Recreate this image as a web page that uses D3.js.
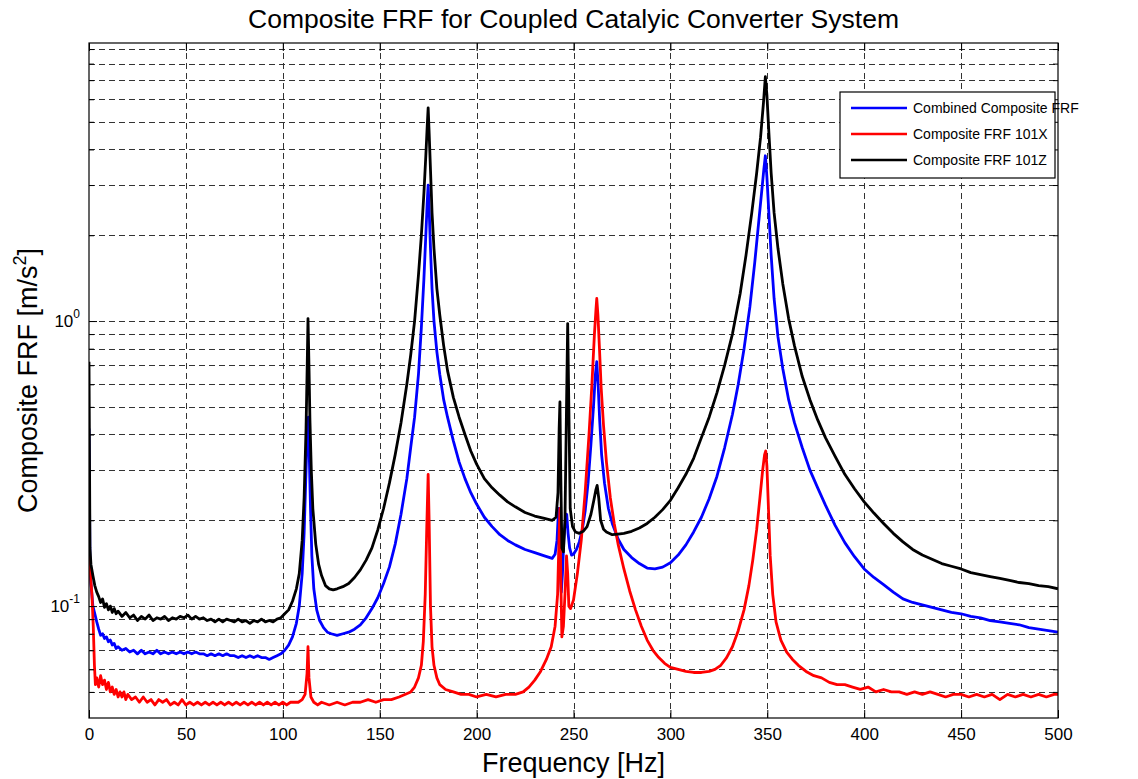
<!doctype html>
<meta charset="utf-8">
<style>
 body { margin: 0; background: #fff; }
 text { font-family: "Liberation Sans", Arial, sans-serif; fill: #000; }
 .grid line { stroke: #333; stroke-width: 1; stroke-dasharray: 6,4; }
 .series path { fill: none; stroke-width: 2.8; stroke-linejoin: round; }
</style>
<svg width="1138" height="779"></svg>
<script src="https://d3js.org/d3.v7.min.js"></script>
<script>
 // Data: [frequency Hz, composite FRF m/s^2]
 var xTicks = [0, 50, 100, 150, 200, 250, 300, 350, 400, 450, 500];
 var yDecades = [0.1, 1];
 var seriesNames = ["Combined Composite FRF", "Composite FRF 101X", "Composite FRF 101Z"];
 var seriesColors = ["#0000ff", "#ff0000", "#000000"];

 var frf101Z = [[0,0.72],[0.5,0.16],[1,0.14],[2,0.128],[3,0.118],[4,0.112],[5,0.108],[6,0.103],[7,0.106],[8,0.099],[9,0.102],[10,0.097],[11,0.1],[12,0.095],[13,0.098],[14,0.094],[15,0.096],[17,0.092],[19,0.095],[21,0.091],[23,0.093],[25,0.089],[27,0.092],[29,0.09],[31,0.093],[33,0.089],[35,0.091],[37,0.09],[39,0.092],[41,0.089],[43,0.091],[45,0.09],[47,0.092],[49,0.091],[51,0.093],[53,0.09],[55,0.092],[57,0.09],[59,0.091],[61,0.089],[63,0.09],[65,0.088],[67,0.09],[69,0.088],[71,0.09],[73,0.089],[75,0.088],[77,0.09],[79,0.088],[81,0.089],[83,0.087],[85,0.089],[87,0.088],[89,0.09],[91,0.088],[93,0.089],[95,0.088],[97,0.09],[99,0.091],[101,0.094],[103,0.097],[105,0.104],[107,0.115],[108.5,0.13],[110,0.17],[111,0.24],[112,0.42],[112.6,0.7],[113,1.02],[113.5,0.7],[114,0.45],[114.7,0.3],[115.5,0.22],[117,0.165],[118.5,0.14],[120,0.128],[122,0.118],[124,0.115],[126,0.114],[128,0.115],[131,0.117],[134,0.12],[137,0.126],[140,0.134],[143,0.145],[146,0.16],[149,0.185],[152,0.22],[155,0.27],[158,0.34],[161,0.44],[164,0.6],[166,0.76],[168,1.0],[170,1.45],[171.5,2.0],[172.8,2.8],[173.8,3.8],[174.5,4.8],[175,5.6],[175.5,4.6],[176.2,3.4],[177,2.4],[178,1.8],[179.5,1.3],[181,1.05],[183,0.82],[185,0.67],[188,0.54],[191,0.46],[194,0.4],[197,0.35],[200,0.315],[204,0.28],[208,0.26],[212,0.245],[216,0.232],[220,0.223],[225,0.213],[230,0.207],[235,0.203],[239,0.2],[241,0.205],[242,0.25],[242.6,0.42],[243,0.52],[243.4,0.3],[244,0.16],[244.8,0.155],[245.6,0.2],[246.4,0.5],[247,0.98],[247.6,0.5],[248.3,0.22],[249.5,0.19],[251,0.182],[253,0.18],[255,0.183],[257,0.19],[259,0.21],[260.5,0.235],[261.5,0.255],[262.2,0.265],[263,0.24],[264,0.2],[265.5,0.186],[267,0.182],[270,0.178],[273,0.179],[276,0.18],[280,0.183],[284,0.188],[288,0.195],[292,0.205],[296,0.218],[300,0.235],[304,0.26],[308,0.29],[312,0.33],[316,0.39],[320,0.46],[324,0.56],[328,0.7],[332,0.9],[336,1.25],[339,1.7],[342,2.4],[344.5,3.3],[346.5,4.4],[348,5.8],[349,7.2],[349.8,6.2],[350.8,4.6],[352,3.3],[353.5,2.4],[355.5,1.8],[358,1.35],[361,1.02],[364,0.82],[368,0.64],[372,0.53],[376,0.45],[380,0.39],[385,0.335],[390,0.29],[395,0.258],[400,0.232],[405,0.212],[410,0.195],[415,0.18],[420,0.168],[425,0.158],[430,0.151],[435,0.146],[440,0.141],[445,0.138],[450,0.135],[455,0.131],[460,0.129],[465,0.127],[470,0.125],[475,0.123],[480,0.121],[485,0.12],[490,0.118],[495,0.117],[500,0.115]];

 var frfCombined = [[0,0.42],[0.5,0.14],[1,0.12],[2,0.1],[3,0.094],[4,0.088],[5,0.083],[6,0.079],[7,0.08],[8,0.077],[9,0.078],[10,0.075],[11,0.076],[12,0.073],[13,0.074],[14,0.071],[15,0.072],[17,0.07],[19,0.071],[21,0.069],[23,0.07],[25,0.068],[27,0.07],[29,0.068],[31,0.069],[33,0.068],[35,0.07],[37,0.068],[39,0.069],[41,0.068],[43,0.069],[45,0.068],[47,0.069],[49,0.068],[51,0.069],[53,0.068],[55,0.069],[57,0.068],[59,0.068],[61,0.067],[63,0.068],[65,0.067],[67,0.068],[69,0.067],[71,0.068],[73,0.067],[75,0.067],[77,0.066],[79,0.067],[81,0.066],[83,0.067],[85,0.066],[87,0.067],[89,0.066],[91,0.066],[93,0.065],[95,0.066],[97,0.067],[99,0.068],[101,0.07],[103,0.073],[105,0.078],[107,0.087],[108.5,0.1],[110,0.13],[111,0.18],[112,0.3],[112.7,0.43],[113.2,0.46],[113.7,0.33],[114.3,0.22],[115,0.15],[116,0.115],[117.5,0.097],[119,0.089],[121,0.084],[123,0.081],[125,0.08],[128,0.079],[131,0.08],[134,0.081],[137,0.083],[140,0.086],[143,0.091],[146,0.098],[149,0.107],[152,0.12],[155,0.137],[158,0.165],[161,0.21],[164,0.28],[166,0.36],[168,0.46],[170,0.65],[171.5,0.95],[172.8,1.4],[173.8,2.0],[174.5,2.6],[175,3.0],[175.5,2.5],[176.2,1.8],[177,1.3],[178,1.0],[179.5,0.78],[181,0.65],[183,0.53],[185,0.46],[188,0.38],[191,0.32],[194,0.28],[197,0.25],[200,0.228],[204,0.205],[208,0.19],[212,0.178],[216,0.17],[220,0.164],[225,0.158],[230,0.154],[235,0.15],[239,0.147],[240.5,0.152],[241.5,0.17],[242.3,0.22],[242.8,0.2],[243.3,0.13],[243.7,0.112],[244.3,0.13],[245,0.17],[245.8,0.2],[246.5,0.21],[247.2,0.18],[248,0.16],[249,0.151],[250,0.152],[251.5,0.158],[253,0.168],[254.5,0.185],[256,0.215],[257.5,0.27],[259,0.37],[260.3,0.5],[261.3,0.65],[262,0.72],[262.7,0.6],[263.5,0.45],[264.5,0.34],[266,0.27],[268,0.22],[270,0.195],[273,0.172],[276,0.158],[280,0.148],[284,0.141],[288,0.136],[292,0.135],[296,0.137],[300,0.142],[304,0.151],[308,0.164],[312,0.182],[316,0.205],[320,0.238],[324,0.285],[328,0.36],[332,0.47],[335,0.6],[338,0.8],[341,1.12],[343.5,1.6],[345.5,2.2],[347,2.8],[348.2,3.4],[349,3.8],[349.8,3.2],[350.8,2.4],[352,1.7],[353.5,1.2],[355.5,0.88],[358,0.68],[361,0.53],[364,0.44],[368,0.36],[372,0.3],[376,0.26],[380,0.226],[385,0.192],[390,0.167],[395,0.149],[400,0.135],[405,0.126],[410,0.119],[415,0.112],[420,0.106],[425,0.103],[430,0.101],[435,0.099],[440,0.097],[445,0.095],[450,0.094],[455,0.092],[460,0.091],[465,0.089],[470,0.088],[475,0.087],[480,0.086],[485,0.084],[490,0.083],[495,0.082],[500,0.081]];

 var frf101X = [[0,0.15],[0.7,0.13],[1.5,0.11],[2.2,0.085],[2.8,0.062],[3.3,0.053],[4,0.056],[5,0.052],[6,0.057],[7,0.053],[8,0.055],[9,0.051],[10,0.054],[11,0.05],[12,0.052],[13,0.049],[14,0.051],[15,0.048],[16,0.05],[17,0.048],[18,0.05],[19,0.047],[20,0.049],[22,0.047],[24,0.048],[26,0.046],[28,0.048],[30,0.046],[32,0.047],[34,0.045],[36,0.047],[38,0.046],[40,0.047],[42,0.045],[44,0.046],[46,0.045],[48,0.047],[50,0.045],[52,0.046],[54,0.045],[56,0.046],[58,0.045],[60,0.046],[62,0.045],[64,0.046],[66,0.045],[68,0.046],[70,0.045],[72,0.046],[74,0.045],[76,0.046],[78,0.045],[80,0.046],[82,0.045],[84,0.046],[86,0.045],[88,0.046],[90,0.045],[92,0.046],[94,0.045],[96,0.046],[98,0.045],[100,0.046],[102,0.045],[104,0.046],[106,0.046],[108,0.046],[110,0.047],[111.5,0.049],[112.5,0.058],[113,0.072],[113.5,0.056],[114.5,0.048],[116,0.046],[118,0.045],[120,0.046],[124,0.045],[128,0.046],[132,0.045],[136,0.046],[140,0.046],[144,0.047],[148,0.046],[152,0.047],[156,0.047],[160,0.048],[163,0.049],[166,0.05],[168,0.052],[170,0.056],[171.5,0.062],[172.5,0.075],[173.5,0.11],[174.3,0.19],[175,0.29],[175.5,0.2],[176.2,0.1],[177,0.072],[178,0.062],[179.5,0.056],[181,0.053],[184,0.051],[188,0.05],[192,0.049],[196,0.049],[200,0.048],[205,0.049],[210,0.048],[215,0.049],[220,0.049],[224,0.05],[227,0.052],[230,0.055],[233,0.059],[236,0.065],[238.5,0.072],[240.5,0.085],[241.8,0.11],[242.5,0.17],[243,0.22],[243.5,0.12],[244,0.078],[244.8,0.085],[245.6,0.11],[246.4,0.15],[247,0.13],[247.6,0.1],[248.5,0.098],[250,0.105],[252,0.13],[254,0.17],[256,0.25],[258,0.4],[259.5,0.6],[260.8,0.9],[261.6,1.1],[262,1.2],[262.6,1.05],[263.4,0.8],[264.3,0.58],[265.5,0.43],[267,0.32],[269,0.24],[271,0.195],[273,0.165],[276,0.135],[279,0.113],[282,0.097],[285,0.085],[288,0.076],[291,0.07],[294,0.066],[297,0.063],[300,0.061],[304,0.06],[308,0.059],[312,0.0585],[316,0.0585],[320,0.059],[323,0.06],[326,0.062],[329,0.066],[332,0.072],[335,0.082],[338,0.097],[340.5,0.118],[342.5,0.145],[344.5,0.185],[346.2,0.24],[347.6,0.3],[348.6,0.34],[349.2,0.35],[349.8,0.31],[350.6,0.22],[351.5,0.15],[352.8,0.11],[354.5,0.088],[357,0.076],[360,0.069],[363,0.065],[366,0.062],[370,0.059],[374,0.057],[378,0.056],[382,0.054],[386,0.053],[390,0.053],[394,0.052],[398,0.051],[402,0.052],[406,0.05],[410,0.051],[414,0.05],[418,0.05],[422,0.049],[426,0.05],[430,0.049],[434,0.05],[438,0.049],[442,0.048],[446,0.049],[450,0.049],[454,0.048],[458,0.049],[462,0.048],[466,0.049],[470,0.047],[474,0.049],[478,0.048],[482,0.049],[486,0.048],[490,0.049],[494,0.048],[498,0.049],[500,0.049]];

 var seriesData = [frfCombined, frf101X, frf101Z];

 // Set up SVG
 var svg = d3.select('svg');
 var margin = { top: 43, left: 89, bottom: 61, right: 80 };
 var width = 1138 - margin.left - margin.right;
 var height = 779 - margin.top - margin.bottom;

 var x = d3.scaleLinear().domain([0, 500]).range([0, width]);
 var y = d3.scaleLog().domain([0.0405, 9.45]).range([height, 0]);

 var g = svg.append('g').attr('transform', 'translate(' + margin.left + ',' + margin.top + ')');

 // minor log ticks (grid lines in MATLAB style)
 var yMinor = y.ticks().filter(function(d) { return d >= y.domain()[0] && d <= y.domain()[1]; });

 var grid = g.append('g').attr('class', 'grid');
 grid.selectAll('.gy').data(yMinor).enter().append('line')
   .attr('x1', 0).attr('x2', width)
   .attr('y1', function(d) { return Math.round(y(d)) + 0.5; })
   .attr('y2', function(d) { return Math.round(y(d)) + 0.5; });
 grid.selectAll('.gx').data(xTicks.slice(1, -1)).enter().append('line')
   .attr('y1', 0).attr('y2', height)
   .attr('x1', function(d) { return Math.round(x(d)) + 0.5; })
   .attr('x2', function(d) { return Math.round(x(d)) + 0.5; });

 // Curves
 g.append('clipPath').attr('id', 'clip').append('rect')
   .attr('width', width).attr('height', height);
 var line = d3.line()
   .x(function(d) { return x(d[0]); })
   .y(function(d) { return y(d[1]); });
 g.append('g').attr('class', 'series').attr('clip-path', 'url(#clip)')
   .selectAll('path').data(seriesData).enter().append('path')
   .attr('stroke', function(d, i) { return seriesColors[i]; })
   .attr('d', line);

 // Axes (ticks inside, on all four sides)
 function styleAxis(sel) {
   sel.select('.domain').remove();
   sel.selectAll('line').attr('stroke', '#000');
   sel.selectAll('text').attr('font-size', 17).attr('font-family', '"Liberation Sans", Arial, sans-serif');
 }
 g.append('g').attr('transform', 'translate(0,' + height + ')')
   .call(d3.axisBottom(x).tickValues(xTicks).tickSizeInner(-8).tickSizeOuter(0).tickPadding(10))
   .call(styleAxis);
 g.append('g')
   .call(d3.axisTop(x).tickValues(xTicks).tickSizeInner(-8).tickSizeOuter(0).tickFormat(''))
   .call(styleAxis);
 var yl = g.append('g')
   .call(d3.axisLeft(y).tickValues(yMinor).tickSizeInner(-5).tickSizeOuter(0).tickFormat(''))
   .call(styleAxis);
 yl.selectAll('.tick line').filter(function(d) { return yDecades.indexOf(d) >= 0; }).attr('x2', 8);
 var yr = g.append('g').attr('transform', 'translate(' + width + ',0)')
   .call(d3.axisRight(y).tickValues(yMinor).tickSizeInner(-5).tickSizeOuter(0).tickFormat(''))
   .call(styleAxis);
 yr.selectAll('.tick line').filter(function(d) { return yDecades.indexOf(d) >= 0; }).attr('x2', -8);

 // decade labels 10^n
 var lab = g.selectAll('.ylab').data(yDecades).enter().append('text')
   .attr('x', -9).attr('y', function(d) { return y(d) + 6; })
   .attr('text-anchor', 'end').attr('font-size', 17);
 lab.append('tspan').text('10');
 lab.append('tspan').attr('dy', -9).attr('font-size', 12)
   .text(function(d) { return String(Math.round(Math.log10(d))); });

 // Box
 g.append('rect').attr('width', width).attr('height', height)
   .attr('fill', 'none').attr('stroke', '#000').attr('stroke-width', 1.2);

 // Titles
 svg.append('text').attr('x', margin.left + width / 2).attr('y', 28)
   .attr('text-anchor', 'middle').attr('font-size', 26.5)
   .text('Composite FRF for Coupled Catalyic Converter System');
 svg.append('text').attr('x', margin.left + width / 2).attr('y', 772)
   .attr('text-anchor', 'middle').attr('font-size', 27)
   .text('Frequency [Hz]');
 var yt = svg.append('text').attr('transform', 'translate(37,' + (margin.top + height / 2) + ') rotate(-90)')
   .attr('text-anchor', 'middle').attr('font-size', 27);
 yt.append('tspan').text('Composite FRF [m/s');
 yt.append('tspan').attr('dy', -11).attr('font-size', 18).text('2');
 yt.append('tspan').attr('dy', 11).text(']');

 // Legend
 var leg = svg.append('g').attr('transform', 'translate(840,92)');
 leg.append('rect').attr('width', 215).attr('height', 86)
   .attr('fill', '#fff').attr('stroke', '#000').attr('stroke-width', 1.2);
 var items = leg.selectAll('.item').data(seriesNames).enter().append('g')
   .attr('transform', function(d, i) { return 'translate(0,' + (16 + i * 26) + ')'; });
 items.append('line').attr('x1', 11).attr('x2', 67)
   .attr('stroke', function(d, i) { return seriesColors[i]; }).attr('stroke-width', 2.6);
 items.append('text').attr('x', 73).attr('y', 5).attr('font-size', 14).text(function(d) { return d; });
</script>
